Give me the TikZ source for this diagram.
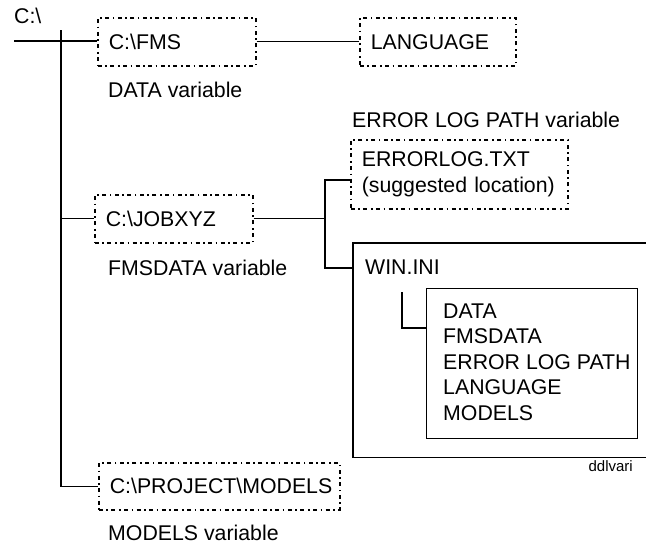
\documentclass[tikz,border=0pt]{standalone}
\usepackage{fontspec}
\setmainfont{Liberation Sans}
\begin{document}
\begin{tikzpicture}[x=1pt,y=-1pt,
  every node/.style={font=\fontsize{21.3}{25.5}\selectfont, inner sep=0pt},
  dbox/.style={draw, line width=1.6pt, dash pattern=on 4pt off 3.5pt on 1.6pt off 3.5pt,
    anchor=north west, align=left, inner xsep=11pt, inner ysep=0pt},
  sbox/.style={draw, line width=1.1pt, anchor=north west},
  lbl/.style={anchor=west},
  conn/.style={line width=1.1pt}]
\useasboundingbox (0,0) rectangle (646,544);

% labels
\node[lbl] (root) at (14,16) {C:\textbackslash};
\node[lbl] (datav) at (108,90) {DATA variable};
\node[lbl] (errv) at (352,120) {ERROR LOG PATH variable};
\node[lbl] (fmsdv) at (108,268) {FMSDATA variable};
\node[lbl] (modv) at (108,533) {MODELS variable};

% dashed boxes
\node[dbox, text width=136pt, minimum height=48pt] (fms) at (97,17) {C:\textbackslash FMS};
\node[dbox, text width=134pt, minimum height=48pt] (lang) at (359,17) {LANGUAGE};
\node[dbox, text width=136pt, minimum height=48pt] (job) at (94,194) {C:\textbackslash JOBXYZ};
\node[dbox, text width=195pt, minimum height=69pt] (err) at (350,139) {ERRORLOG.TXT\\(suggested location)};
\node[dbox, text width=219pt, minimum height=47pt] (proj) at (98,462) {C:\textbackslash PROJECT\textbackslash MODELS};

% WIN.INI box (open to the right)
\node[anchor=north west, minimum width=300pt, minimum height=214pt] (win) at (353,243) {};
\draw[conn] (win.north east) -- (win.north west) -- (win.south west) -- (win.south east);
\node[lbl] (wintxt) at (365,267) {WIN.INI};
\node[sbox, minimum width=211pt, minimum height=150pt] (ini) at (426,288) {};
\node[anchor=west, align=left] (initxt) at (443,362)
  {DATA\\FMSDATA\\ERROR LOG PATH\\LANGUAGE\\MODELS};
\node[anchor=east, font=\fontsize{15}{18}\selectfont] (ddl) at (633,466) {ddlvari};

% connectors
\coordinate (r0) at (14,41);
\coordinate (t0) at (61,30);
\draw[conn] (r0) -- (r0 -| fms.west);
\draw[conn] (t0) |- (proj.west);
\draw[conn] (job.west -| t0) -- (job.west);
\draw[conn] (fms.east) -- (lang.west);

\coordinate (bt) at (325,180);
\coordinate (bb) at (325,268);
\draw[conn] (job.east) -- (job.east -| bt);
\draw[conn] (bt -| err.west) -- (bt) -- (bb) -- (bb -| win.west);

\coordinate (ic) at (402,292);
\coordinate (ic2) at (402,328);
\draw[conn] (ic) -- (ic2) -- (ic2 -| ini.west);
\end{tikzpicture}
\end{document}
